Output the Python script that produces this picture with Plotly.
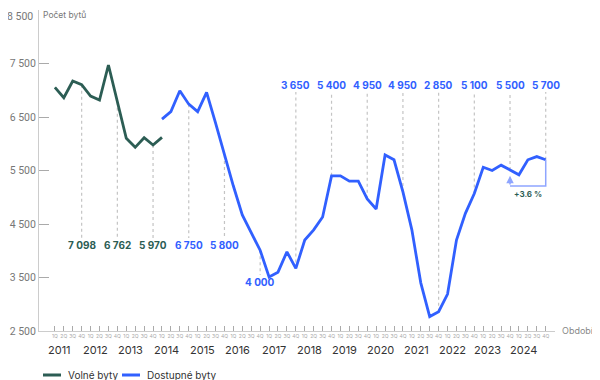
import plotly.graph_objects as go

# ---------------- data ----------------
years = [2011, 2012, 2013, 2014, 2015, 2016, 2017, 2018, 2019, 2020, 2021, 2022, 2023, 2024]
quarter_names = ["1Q", "2Q", "3Q", "4Q"]

# Volné byty: 1Q 2011 .. 1Q 2014 (quarter index 0..12)
volne_start = 0
volne = [7055, 6860, 7173, 7103, 6892, 6817, 7472, 6786, 6102, 5933, 6113, 5976, 6120]

# Dostupné byty: 1Q 2014 .. 4Q 2024 (quarter index 12..55)
dostupne_start = 12
dostupne = [6460, 6600, 6990, 6740, 6600, 6960, 6390, 5790, 5210, 4670, 4330, 4010,
            3510, 3600, 3980, 3670, 4200, 4390, 4630, 5400, 5400, 5300, 5300, 4970,
            4780, 5790, 5700, 5100, 4390, 3400, 2770, 2860, 3190, 4200, 4700, 5070,
            5560, 5500, 5600, 5510, 5420, 5700, 5760, 5700]

# annual labels (shown at 4Q of each year)
annual_labels = ["7 098", "6 762", "5 970", "6 750", "5 800", "4 000", "3 650",
                 "5 400", "4 950", "4 950", "2 850", "5 100", "5 500", "5 700"]
annual_series = ["v", "v", "v", "d", "d", "d", "d", "d", "d", "d", "d", "d", "d", "d"]
annual_place = ["low", "low", "low", "low", "low", "lower", "top", "top", "top",
                "top", "top", "top", "top", "top"]

change_text = "+3.6 %"
ytick_vals = [2500, 3500, 4500, 5500, 6500, 7500, 8500]
ytick_text = ["2 500", "3 500", "4 500", "5 500", "6 500", "7 500", "8 500"]

# ---------------- styles ----------------
GREEN = "#2c5d54"
BLUE = "#3160ff"
DOT = "#c4c4c4"
FONT = "Inter"

n_q = len(years) * 4
tick_pos = list(range(n_q + 1))
tick_txt = [quarter_names[i % 4] for i in range(n_q)] + [""]

xv = list(range(volne_start, volne_start + len(volne)))
xd = list(range(dostupne_start, dostupne_start + len(dostupne)))

fig = go.Figure()
fig.add_trace(go.Scatter(x=xv, y=volne, mode="lines", name="Volné byty",
                         line=dict(color=GREEN, width=2.8), showlegend=False))
fig.add_trace(go.Scatter(x=xd, y=dostupne, mode="lines", name="Dostupné byty",
                         line=dict(color=BLUE, width=2.8), showlegend=False))


def value_at(series, idx):
    if series == "v":
        return volne[idx - volne_start]
    return dostupne[idx - dostupne_start]


shapes = []
annotations = []
label_y = {"top": 7098, "low": 4107, "lower": 3416}
line_end = {"top": 6967, "low": 4238, "lower": 3547}
for k, yr in enumerate(years):
    qi = 4 * k + 3
    s = annual_series[k]
    v = value_at(s, qi)
    pl = annual_place[k]
    shapes.append(dict(type="line", xref="x", yref="y", x0=qi, x1=qi, y0=v, y1=line_end[pl],
                       line=dict(color=DOT, width=1.2, dash="dot"), layer="below"))
    annotations.append(dict(x=qi, y=label_y[pl], xref="x", yref="y", text="<b>%s</b>" % annual_labels[k],
                            showarrow=False, xanchor="center", yanchor="middle",
                            font=dict(family=FONT, size=10, color=GREEN if s == "v" else BLUE)))
    # year labels
    annotations.append(dict(x=4 * k + 0.5, y=-0.06, xref="x", yref="paper", text=str(yr),
                            showarrow=False, xanchor="center", yanchor="middle",
                            font=dict(family=FONT, size=11, color="#333333")))

# +3.6 % bracket (4Q 2023 -> 4Q 2024)
i_a, i_b = 51, 55
br_y = 5210
shapes.append(dict(type="path", xref="x", yref="y",
                   path="M %s,%s L %s,%s L %s,%s" % (i_a, br_y, i_b, br_y, i_b, value_at("d", i_b)),
                   line=dict(color="#8ea5ff", width=1.5)))
annotations.append(dict(x=i_a, y=5400, ax=i_a, ay=br_y, xref="x", yref="y", axref="x", ayref="y",
                        text="", showarrow=True, arrowhead=2, arrowsize=1, arrowwidth=1.5,
                        arrowcolor="#8ea5ff"))
annotations.append(dict(x=(i_a + i_b) / 2, y=5070, xref="x", yref="y", text="<b>%s</b>" % change_text,
                        showarrow=False, font=dict(family=FONT, size=8, color=GREEN)))

# axis titles
annotations.append(dict(x=0.004, y=1.0, xref="paper", yref="paper", text="Počet bytů",
                        showarrow=False, xanchor="left", yanchor="top", yshift=2,
                        font=dict(family=FONT, size=8.5, color="#777777")))
annotations.append(dict(x=1.0, y=0.0, xref="paper", yref="paper", text="Období",
                        showarrow=False, xanchor="left", yanchor="middle", xshift=5, yshift=1,
                        font=dict(family=FONT, size=9, color="#888888")))

# top y tick label drawn as annotation so it stays inside the page
top_tick_text = ytick_text[-1]
ytick_text_axis = ytick_text[:-1] + [""]
annotations.append(dict(x=0, y=1.0, xref="paper", yref="paper", text=top_tick_text,
                        showarrow=False, xanchor="right", yanchor="top", xshift=-4, yshift=2,
                        font=dict(family="Roboto", size=10.5, color="#777777")))

# legend (drawn as key); coordinates relative to the plot area
W, H = 516.0, 321.0
def px(xp):
    return (xp - 39) / W
def py(yp):
    return (331 - yp) / H

for name, col, x0, x1, tx in [("Volné byty", GREEN, 43, 61, 66), ("Dostupné byty", BLUE, 122, 140, 145)]:
    shapes.append(dict(type="line", xref="paper", yref="paper", x0=px(x0), x1=px(x1),
                       y0=py(375), y1=py(375), line=dict(color=col, width=3)))
    annotations.append(dict(x=px(tx), y=py(375), xref="paper", yref="paper", text=name,
                            showarrow=False, xanchor="left", yanchor="middle",
                            font=dict(family=FONT, size=10, color="#333333")))

# page body has an 8px margin, so the figure is 592x372 with margins shifted by 8px
fig.update_layout(
    width=592, height=372,
    margin=dict(l=31, r=45, t=2, b=49, autoexpand=False),
    paper_bgcolor="white", plot_bgcolor="white",
    showlegend=False,
    shapes=shapes, annotations=annotations,
    font=dict(family=FONT),
)
fig.update_xaxes(range=[-1.78, 56.04], tickmode="array", tickvals=tick_pos, ticktext=tick_txt,
                 showgrid=False, zeroline=False, showline=True, linecolor="#cccccc", linewidth=1,
                 ticks="inside", ticklen=5, tickcolor="#aaaaaa", tickangle=0, automargin=False,
                 tickfont=dict(family=FONT, size=5, color="#aaaaaa"))
fig.update_yaxes(range=[2500, 8500], tickmode="array", tickvals=ytick_vals, ticktext=ytick_text_axis,
                 showgrid=False, zeroline=False, showline=True, linecolor="#cccccc", linewidth=1,
                 ticks="inside", ticklen=10, tickcolor="#aaaaaa", automargin=False,
                 ticklabeloverflow="allow",
                 tickfont=dict(family="Roboto", size=10.5, color="#777777"))

fig.write_html("out.html")
